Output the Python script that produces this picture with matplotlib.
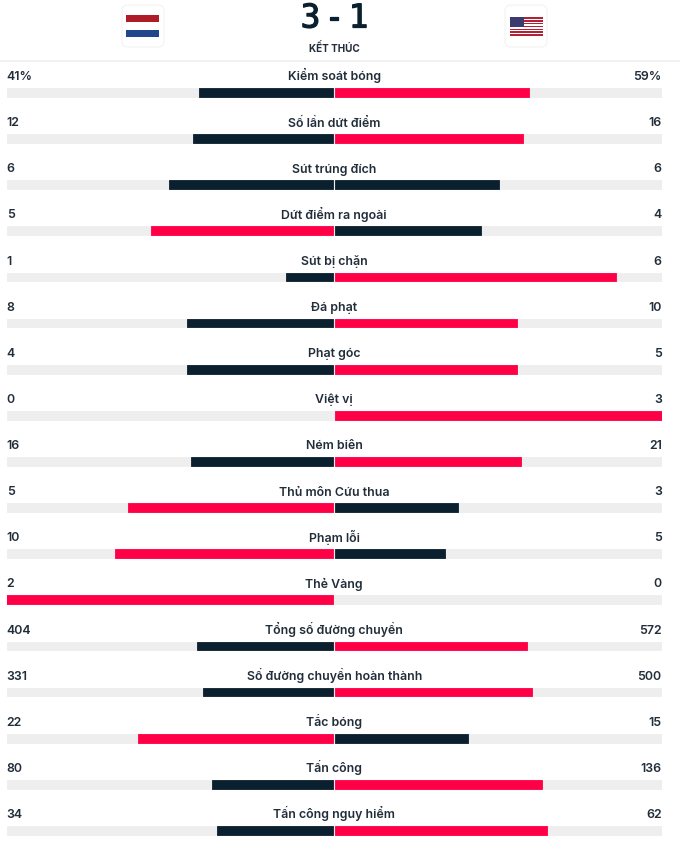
import matplotlib
matplotlib.use('Agg')
import matplotlib.pyplot as plt
import matplotlib.patheffects as pe
from matplotlib.patches import FancyBboxPatch, Rectangle

plt.rcParams['font.family'] = ['Inter', 'DejaVu Sans']

categories = ['Kiểm soát bóng', 'Số lần dứt điểm', 'Sút trúng đích', 'Dứt điểm ra ngoài',
              'Sút bị chặn', 'Đá phạt', 'Phạt góc', 'Việt vị', 'Ném biên', 'Thủ môn Cứu thua',
              'Phạm lỗi', 'Thẻ Vàng', 'Tổng số đường chuyền', 'Số đường chuyền hoàn thành',
              'Tắc bóng', 'Tấn công', 'Tấn công nguy hiểm']
home = [41, 12, 6, 5, 1, 8, 4, 0, 16, 5, 10, 2, 404, 331, 22, 80, 34]
away = [59, 16, 6, 4, 6, 10, 5, 3, 21, 3, 5, 0, 572, 500, 15, 136, 62]
home_labels = ['41%'] + [str(v) for v in home[1:]]
away_labels = ['59%'] + [str(v) for v in away[1:]]
score_home = '3'
score_away = '1'
status = 'KẾT THÚC'

DARK = '#0a202e'
RED = '#ff0046'
TRACK = '#eeeeee'
TEXT = '#222d3a'

fig = plt.figure(figsize=(6.8, 8.42), dpi=100)

# header is laid out in pixels of the figure
head = fig.add_axes([0, 0, 1, 1])
head.set_xlim(0, 680)
head.set_ylim(842, 0)
head.axis('off')
head.add_patch(Rectangle((0, 60), 680, 2, color='#f1f1f1', lw=0))

for x0 in (122, 505):
    head.add_patch(FancyBboxPatch((x0 + 5, 10), 32, 32, boxstyle='round,pad=5,rounding_size=6',
                                  fc='white', ec='#f3f3f3', lw=0.8))

# Netherlands
for i, c in enumerate(['#ae1c28', 'white', '#21468b']):
    head.add_patch(Rectangle((126, 15 + i * 7.4), 33, 7.4, color=c, lw=0))
# USA
for i in range(13):
    c = '#b22234' if i % 2 == 0 else 'white'
    head.add_patch(Rectangle((510, 17.3 + i * 1.4), 33, 1.4, color=c, lw=0))
head.add_patch(Rectangle((510, 17.3), 13.5, 9.8, color='#3c3b6e', lw=0))

score_font = dict(family='DejaVu Sans Mono', fontsize=23.5, color=DARK, va='center', ha='center',
                  path_effects=[pe.withStroke(linewidth=0.9, foreground=DARK)])
head.text(310.5, 18, score_home, **score_font)
head.text(334, 18, '-', **score_font)
head.text(358.5, 18, score_away, **score_font)
head.text(334, 47.5, status, fontsize=7.2, fontweight='bold', color=TEXT, ha='center', va='center')

# bars: -1 is the left end of the track, 1 the right end
ax = fig.add_axes([6.7 / 680, 0, 655 / 680, (842 - 69.4) / 842])
ax.set_xlim(-1, 1)
ax.set_ylim(16.25, -0.5)
ax.axis('off')

gap = 1.2 / 327
rows = list(range(len(categories)))
ax.barh(rows, [2] * len(rows), left=-1, height=0.19, color=TRACK, edgecolor=TRACK, lw=0.6, joinstyle='round')

for row, name, h, a, hl, al in zip(rows, categories, home, away, home_labels, away_labels):
    total = h + a
    # a side with zero gets no bar at all
    if h > 0:
        ax.barh(row, -(h / total), left=-gap, height=0.19, color=RED if h > a else DARK,
                edgecolor=RED if h > a else DARK, lw=0.6, joinstyle='round')
    if a > 0:
        ax.barh(row, a / total, left=gap, height=0.19, color=RED if a > h else DARK,
                edgecolor=RED if a > h else DARK, lw=0.6, joinstyle='round')
    ax.text(0, row - 0.26, name, fontsize=8.9, fontweight='semibold', color=TEXT, ha='center', va='baseline')
    ax.text(-1, row - 0.27, hl, fontsize=8.9, fontweight='semibold', color=TEXT, ha='left', va='baseline')
    ax.text(1, row - 0.27, al, fontsize=8.9, fontweight='semibold', color=TEXT, ha='right', va='baseline')

fig.savefig('out.png', dpi=100)
